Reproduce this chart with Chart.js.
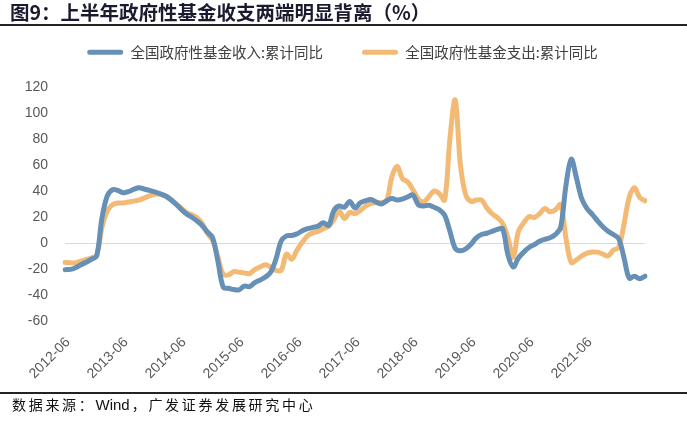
<!DOCTYPE html>
<html><head><meta charset="utf-8">
<script src="https://cdn.jsdelivr.net/npm/chart.js@4.4.1/dist/chart.umd.min.js"></script>
<style>
html,body{margin:0;padding:0;background:#fff;}
#wrap{position:relative;width:687px;height:425px;overflow:hidden;background:#fff;}
canvas{position:absolute;left:0;top:0;}
#title{position:absolute;left:10px;top:1px;font-weight:bold;font-size:19.5px;font-family:"Noto Sans CJK SC",sans-serif;color:#1b1b2f;line-height:22px;white-space:nowrap;}
#tline{position:absolute;left:0;top:24px;width:687px;height:2px;background:#222;}
#bline{position:absolute;left:0;top:392px;width:687px;height:2px;background:#222;}
#src{position:absolute;left:12px;top:395px;font-size:14px;font-family:"Noto Sans CJK SC",sans-serif;color:#111;line-height:18px;white-space:nowrap;}
#src .cj{letter-spacing:2.7px;}
#src .en{font-family:"Liberation Sans",Arial,sans-serif;font-size:15px;letter-spacing:0;margin-right:2px;}
</style></head>
<body>
<div id="wrap">
<canvas id="c" width="687" height="425"></canvas>
<div id="title">图9：上半年政府性基金收支两端明显背离（%）</div>
<div id="tline"></div>
<div id="bline"></div>
<div id="src"><span class="cj">数据来源：</span><span class="en">Wind</span><span class="cj">，广发证券发展研究中心</span></div>
</div>
<script>
const categories = [
'2012-06','2012-07','2012-08','2012-09','2012-10','2012-11','2012-12',
'2013-02','2013-03','2013-04','2013-05','2013-06','2013-07','2013-08','2013-09','2013-10','2013-11','2013-12',
'2014-02','2014-03','2014-04','2014-05','2014-06','2014-07','2014-08','2014-09','2014-10','2014-11','2014-12',
'2015-02','2015-03','2015-04','2015-05','2015-06','2015-07','2015-08','2015-09','2015-10','2015-11','2015-12',
'2016-02','2016-03','2016-04','2016-05','2016-06','2016-07','2016-08','2016-09','2016-10','2016-11','2016-12',
'2017-02','2017-03','2017-04','2017-05','2017-06','2017-07','2017-08','2017-09','2017-10','2017-11','2017-12',
'2018-02','2018-03','2018-04','2018-05','2018-06','2018-07','2018-08','2018-09','2018-10','2018-11','2018-12',
'2019-02','2019-03','2019-04','2019-05','2019-06','2019-07','2019-08','2019-09','2019-10','2019-11','2019-12',
'2020-02','2020-03','2020-04','2020-05','2020-06','2020-07','2020-08','2020-09','2020-10','2020-11','2020-12',
'2021-02','2021-03','2021-04','2021-05','2021-06','2021-07','2021-08','2021-09','2021-10','2021-11','2021-12',
'2022-02','2022-03','2022-04','2022-05','2022-06'
];
const tickLabels = ['2012-06','2013-06','2014-06','2015-06','2016-06','2017-06','2018-06','2019-06','2020-06','2021-06'];
const seriesNames = ['全国政府性基金收入:累计同比','全国政府性基金支出:累计同比'];
const revenue = [
-20.5,-20.3,-19,-16.8,-14.8,-12.5,-10,
19,36,41,40.5,38.7,39.5,41.2,42.5,41.5,40.5,39.4,
38,36.3,33.5,30,26,22.5,20,17,13.5,8.5,4,
-14,-34,-34.8,-35.8,-36,-33.2,-33.6,-30.5,-28.5,-26.2,-22.5,
-12.5,1.5,5.5,5.8,7,9.4,11,12,13,15.5,13.5,
25,28.5,27.5,32,27,31,32.5,33.5,31.5,30,32.5,
34.2,33,33.8,35.5,37,29.5,28.5,29,27.5,25.5,21.5,
9,-4,-6,-4.5,-1,4,6.5,7.5,9,10.5,11,
-9,-18.5,-11.5,-7,-3.5,-1.3,1.3,2.8,4,6.5,12,
44,64.5,50,34,26.5,22,17,12.5,9,6.5,3.5,
-11,-27,-25.5,-27.5,-25.5
];
const expenditure = [
-15,-15.2,-15.3,-14,-12.8,-11.5,-9.5,
12,24.5,29.5,30.7,30.8,31.5,32.2,33,34.5,36.2,37.5,
37.5,36.3,34,30.5,27,23.5,21.8,19.5,15,7.5,2,
-11,-24,-24.5,-22,-22.5,-23,-23.5,-20.5,-18.5,-16.8,-18.5,
-21,-21,-8.5,-12.5,-5.5,0.5,5.5,7.8,9,11,12.8,
18,24.7,18.8,23.5,22.5,25,28.3,30.5,31,31.2,32.5,
51,59,49.5,47,41,34,31.5,35.5,40,38,33,
80,110,60,37,32,33,33,27,22.5,19.5,15,
4,-11,9,15.5,20.3,19.6,22.5,26.5,24,25.5,29.5,
4,-15,-13,-10,-7.8,-7,-7,-8.5,-10,-5.5,-3.5,
14,35,42.5,35,32.5
];
const BLUE = '#6690B5', ORANGE = '#F3BA75';
const axisFont = {family: '"Liberation Sans", Arial, sans-serif', size: 14};
const lineStyle = {borderWidth: 5, pointRadius: 0, tension: 0.35, borderCapStyle: 'round', borderJoinStyle: 'round', fill: false, xAxisID: 'x', yAxisID: 'y'};
const ctx = document.getElementById('c').getContext('2d');
new Chart(ctx, {
  type: 'line',
  data: {
    labels: categories,
    datasets: [
      Object.assign({label: seriesNames[0], data: revenue, borderColor: BLUE, backgroundColor: BLUE}, lineStyle),
      Object.assign({label: seriesNames[1], data: expenditure, borderColor: ORANGE, backgroundColor: ORANGE}, lineStyle)
    ]
  },
  options: {
    responsive: false, animation: false, devicePixelRatio: 1,
    layout: {padding: {left: 20, right: 22, top: 6, bottom: 44}},
    plugins: {
      tooltip: {enabled: false},
      legend: {
        display: true, position: 'top', align: 'center',
        labels: {
          boxWidth: 36, boxHeight: 5, useBorderRadius: true, borderRadius: 2.5, padding: 39,
          color: '#404040', font: {family: '"Noto Sans CJK SC", sans-serif', size: 14.5},
          generateLabels: (chart) => Chart.defaults.plugins.legend.labels.generateLabels(chart).map(l => Object.assign(l, {lineWidth: 0, fillStyle: l.strokeStyle}))
        }
      }
    },
    scales: {
      x: {
        type: 'category', position: 'bottom',
        grid: {display: false}, border: {display: false},
        ticks: {autoSkip: false, minRotation: 45, maxRotation: 45, padding: 5, labelOffset: 3, color: '#595959', font: axisFont,
          callback: function(v, i) { const l = categories[i]; return tickLabels.includes(l) ? l : ''; }},
        afterFit: s => { s.height = 60; }
      },
      y: {
        type: 'linear', position: 'left',
        min: -60, max: 120,
        ticks: {stepSize: 20, padding: 17, color: '#595959', font: axisFont},
        grid: {drawTicks: false, lineWidth: 1, color: c => (c.tick && c.tick.value === 0) ? '#d9d9d9' : 'rgba(0,0,0,0)'},
        border: {display: false},
        afterFit: s => { s.width = 45; }
      },
      gap: {
        type: 'category', position: 'top', display: true,
        grid: {display: false}, border: {display: false}, ticks: {display: false},
        afterFit: s => { s.height = 17.5; }
      },
      gapR: {
        type: 'linear', position: 'right', display: true, min: 0, max: 1,
        grid: {display: false}, border: {display: false}, ticks: {display: false},
        afterFit: s => { s.width = 20; }
      }
    }
  }
});
</script>
</body></html>
